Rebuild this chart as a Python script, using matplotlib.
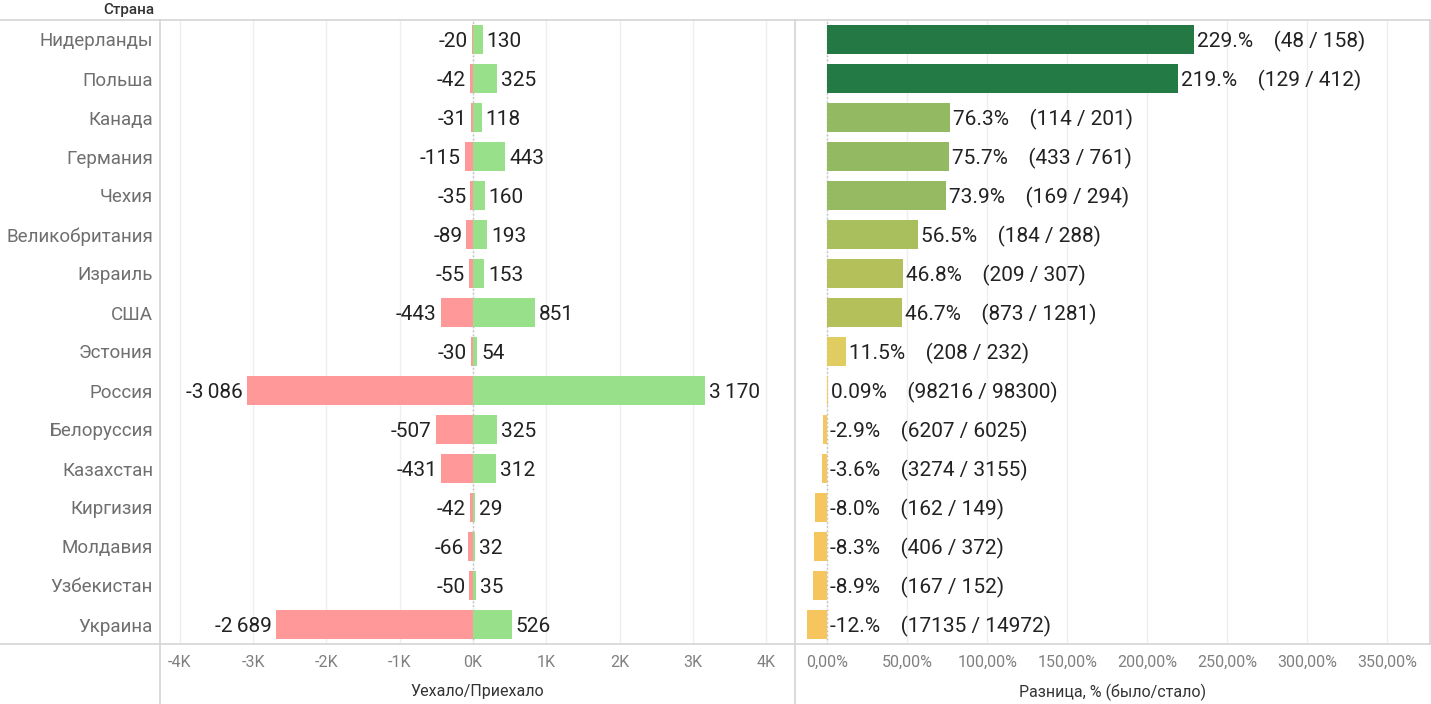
import matplotlib
matplotlib.use("Agg")
import matplotlib.pyplot as plt
from matplotlib.lines import Line2D
from matplotlib.colors import LinearSegmentedColormap, Normalize

plt.rcParams['font.family'] = ['Roboto', 'DejaVu Sans']

countries = ['Нидерланды', 'Польша', 'Канада', 'Германия', 'Чехия', 'Великобритания',
             'Израиль', 'США', 'Эстония', 'Россия', 'Белоруссия', 'Казахстан',
             'Киргизия', 'Молдавия', 'Узбекистан', 'Украина']
left_out = [-20, -42, -31, -115, -35, -89, -55, -443, -30, -3086, -507, -431, -42, -66, -50, -2689]
arrived = [130, 325, 118, 443, 160, 193, 153, 851, 54, 3170, 325, 312, 29, 32, 35, 526]
before = [48, 129, 114, 433, 169, 184, 209, 873, 208, 98216, 6207, 3274, 162, 406, 167, 17135]
after = [158, 412, 201, 761, 294, 288, 307, 1281, 232, 98300, 6025, 3155, 149, 372, 152, 14972]
pct_labels = ['229.%', '219.%', '76.3%', '75.7%', '73.9%', '56.5%', '46.8%', '46.7%',
              '11.5%', '0.09%', '-2.9%', '-3.6%', '-8.0%', '-8.3%', '-8.9%', '-12.%']
k_ticks = [-4000, -3000, -2000, -1000, 0, 1000, 2000, 3000, 4000]
pct_ticks = [0, 50, 100, 150, 200, 250, 300, 350]

pct = [(a - b) / b * 100 for a, b in zip(after, before)]

W, H = 1431, 704
fig = plt.figure(figsize=(W / 100, H / 100), dpi=100)

def rect(x0, y0, x1, y1):
    return [x0 / W, 1 - y1 / H, (x1 - x0) / W, (y1 - y0) / H]

axL = fig.add_axes(rect(160, 20, 795, 644))
axR = fig.add_axes(rect(795, 20, 1431, 644))

ypos = list(range(len(countries)))
txt = '#222222'
grid = '#efefef'
fs = 15

# left panel
axL.set_xlim(-4270, 4393)
axL.set_ylim(len(countries) - 0.5, -0.5)
for t in k_ticks:
    axL.axvline(t, color=grid, lw=1, zorder=0)
axL.axvline(0, color='#bbbbbb', lw=1, ls=(0, (1, 2)), zorder=1)
axL.barh(ypos, left_out, height=0.72, color='#ff9999', zorder=2)
axL.barh(ypos, arrived, height=0.72, color='#98e08a', zorder=2)
for y, lo, ar in zip(ypos, left_out, arrived):
    axL.annotate('-' + f'{-lo:,}'.replace(',', '\u2009'), (lo, y), xytext=(-4, -2),
                 textcoords='offset pixels', ha='right', va='center', fontsize=fs, color=txt)
    axL.annotate(f'{ar:,}'.replace(',', '\u2009'), (ar, y), xytext=(4, -2),
                 textcoords='offset pixels', ha='left', va='center', fontsize=fs, color=txt)
axL.set_xticks(k_ticks)
axL.set_xticklabels([f'{t // 1000}K' for t in k_ticks])
axL.set_yticks(ypos)
axL.set_yticklabels(countries)
axL.tick_params(axis='y', length=0, pad=5, labelsize=13.5, labelcolor='#6f6f6f')
axL.tick_params(axis='x', length=0, pad=8, labelsize=11.5, labelcolor='#808080')
axL.set_xlabel('Уехало/Приехало', fontsize=11.5, color='#333333', labelpad=10)

# right panel
cmap = LinearSegmentedColormap.from_list('steps', [
    (0.0, '#f7c55d'), (12.6 / 242.6, '#f3c960'), (24.1 / 242.6, '#dfcd62'),
    (59.3 / 242.6, '#b4c15a'), (69.1 / 242.6, '#a8be5c'), (88.6 / 242.6, '#93b962'),
    (100.0 / 242.6, '#8cb55f'), (231.6 / 242.6, '#247a45'), (1.0, '#237843')])
norm = Normalize(-12.6, 230)
axR.set_xlim(-20.3, 377.2)
axR.set_ylim(len(countries) - 0.5, -0.5)
for t in pct_ticks:
    axR.axvline(t, color=grid, lw=1, zorder=0)
axR.axvline(0, color='#bbbbbb', lw=1, ls=(0, (1, 2)), zorder=1)
axR.barh(ypos, pct, height=0.74, color=[cmap(norm(p)) for p in pct], zorder=2)
for y, p, lab, b, a in zip(ypos, pct, pct_labels, before, after):
    axR.annotate(f'{lab}    ({b} / {a})', (max(p, 0), y), xytext=(3, -2),
                 textcoords='offset pixels', ha='left', va='center', fontsize=fs, color=txt)
axR.set_xticks(pct_ticks)
axR.set_xticklabels([f'{t:.2f}%'.replace('.', ',') for t in pct_ticks])
axR.set_yticks([])
axR.tick_params(axis='x', length=0, pad=8, labelsize=11.5, labelcolor='#808080')
axR.set_xlabel('Разница, % (было/стало)', fontsize=11.5, color='#333333', labelpad=10)

for ax in (axL, axR):
    for s in ax.spines.values():
        s.set_visible(False)

# frame lines
line = '#d4d4d4'
for (x0, y0, x1, y1) in [(0, 20, W, 20), (0, 644, W, 644), (160, 20, 160, H),
                         (795, 20, 795, H), (W - 1, 20, W - 1, 644)]:
    fig.add_artist(Line2D([x0 / W, x1 / W], [1 - y0 / H, 1 - y1 / H], color=line, lw=1.2))

fig.text(154 / W, 1 - 10 / H, 'Страна', ha='right', va='center', fontsize=11,
         color='#333333', fontweight='medium')

fig.savefig('out.png', dpi=100)
